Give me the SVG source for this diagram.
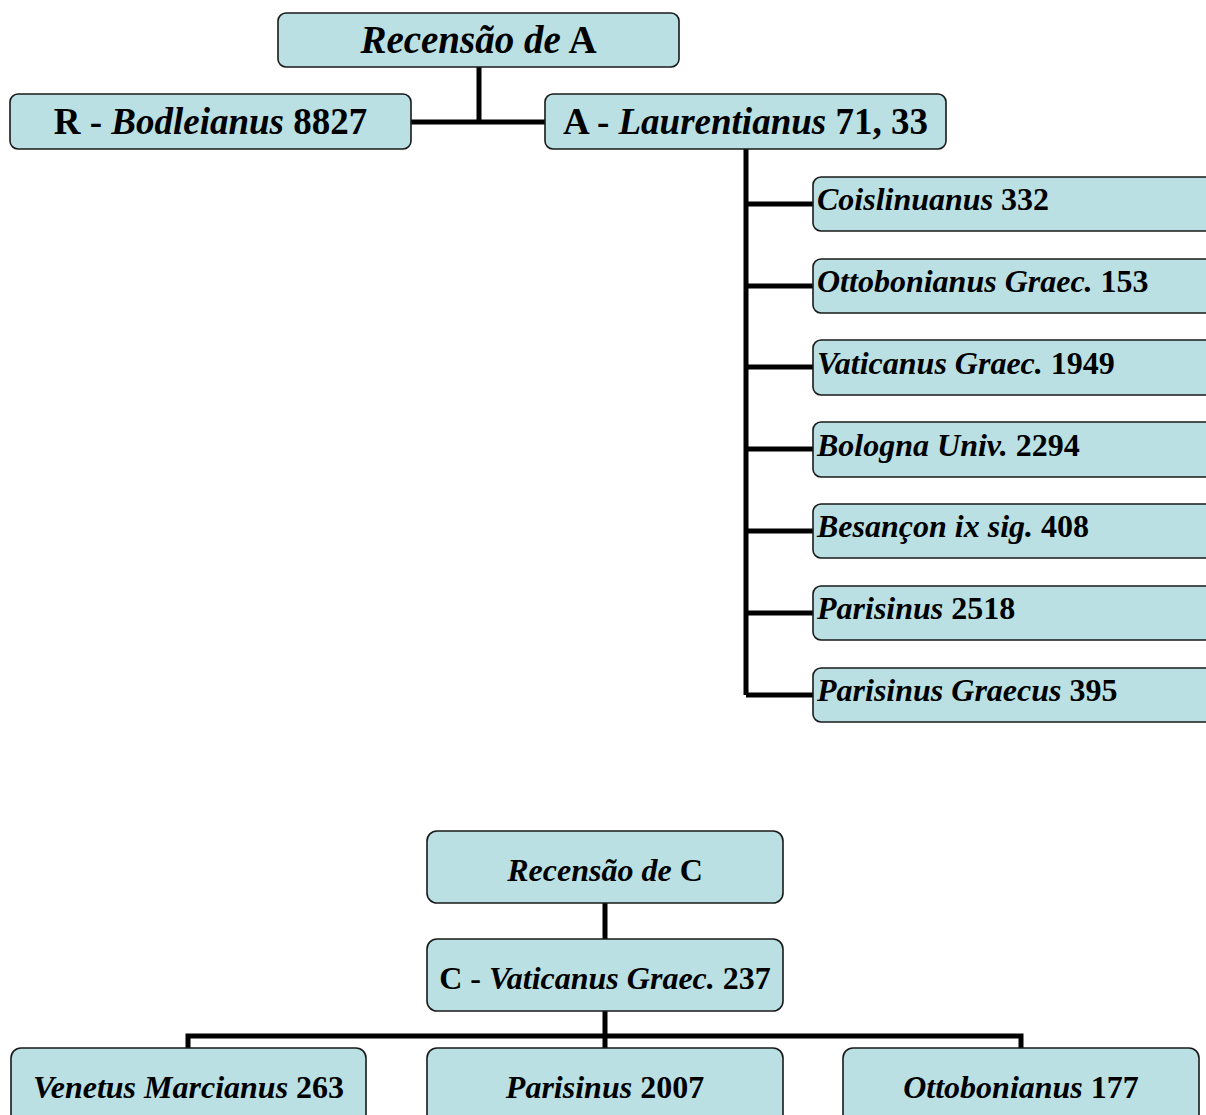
<svg xmlns="http://www.w3.org/2000/svg" width="1206" height="1115" viewBox="0 0 1206 1115">
<style>
.box{fill:#bae0e3;stroke:#1a1a1a;stroke-width:1.6}
.t{font-family:"Liberation Serif","Times New Roman",serif;font-weight:bold;fill:#000}
.i{font-style:italic}
.s{font-size:32px}
.c{stroke:#000;stroke-width:5;fill:none}
</style>
<rect width="1206" height="1115" fill="#fff"/>
<g id="connectors">
<path class="c" d="M479,67 V122 M411,122 H545"/>
<path class="c" d="M746,149 V695 M746,204 H813 M746,286 H813 M746,367 H813 M746,449 H813 M746,531 H813 M746,613 H813 M746,695 H813"/>
<path class="c" d="M605,903 V939 M605,1011 V1048 M188,1048 V1036 H1021 V1048"/>
</g>
<g id="recensao-a"><rect class="box" x="278" y="13" width="401" height="54" rx="8"/><text class="t" x="478.5" y="53" font-size="39" text-anchor="middle"><tspan class="i">Recensão de</tspan> A</text></g>
<g id="r-bodleianus"><rect class="box" x="10" y="94" width="401" height="55" rx="8"/><text class="t" x="210.5" y="134" font-size="37" text-anchor="middle">R - <tspan class="i">Bodleianus</tspan> 8827</text></g>
<g id="a-laurentianus"><rect class="box" x="545" y="94" width="401" height="55" rx="8"/><text class="t" x="745.5" y="134" font-size="37" text-anchor="middle">A - <tspan class="i">Laurentianus</tspan> 71, 33</text></g>
<g id="coislinuanus"><rect class="box" x="813" y="177" width="410" height="54" rx="8"/><text class="t s" x="817" y="210"><tspan class="i">Coislinuanus</tspan> 332</text></g>
<g id="ottobonianus-graec"><rect class="box" x="813" y="259" width="410" height="54" rx="8"/><text class="t s" x="817" y="292"><tspan class="i">Ottobonianus Graec.</tspan> 153</text></g>
<g id="vaticanus-graec-1949"><rect class="box" x="813" y="340" width="410" height="55" rx="8"/><text class="t s" x="817" y="374"><tspan class="i">Vaticanus Graec.</tspan> 1949</text></g>
<g id="bologna"><rect class="box" x="813" y="422" width="410" height="55" rx="8"/><text class="t s" x="817" y="456"><tspan class="i">Bologna Univ.</tspan> 2294</text></g>
<g id="besancon"><rect class="box" x="813" y="504" width="410" height="54" rx="8"/><text class="t s" x="817" y="537"><tspan class="i">Besançon ix sig.</tspan> 408</text></g>
<g id="parisinus-2518"><rect class="box" x="813" y="586" width="410" height="54" rx="8"/><text class="t s" x="817" y="619"><tspan class="i">Parisinus</tspan> 2518</text></g>
<g id="parisinus-graecus"><rect class="box" x="813" y="668" width="410" height="54" rx="8"/><text class="t s" x="817" y="701"><tspan class="i">Parisinus Graecus</tspan> 395</text></g>
<g id="recensao-c"><rect class="box" x="427" y="831" width="356" height="72" rx="10"/><text class="t s" x="605" y="881" text-anchor="middle"><tspan class="i">Recensão de</tspan> C</text></g>
<g id="c-vaticanus"><rect class="box" x="427" y="939" width="356" height="72" rx="10"/><text class="t s" x="605" y="989" text-anchor="middle">C - <tspan class="i">Vaticanus Graec.</tspan> 237</text></g>
<g id="venetus"><rect class="box" x="11" y="1048" width="355" height="80" rx="10"/><text class="t s" x="188.5" y="1098" text-anchor="middle"><tspan class="i">Venetus Marcianus</tspan> 263</text></g>
<g id="parisinus-2007"><rect class="box" x="427" y="1048" width="356" height="80" rx="10"/><text class="t s" x="605" y="1098" text-anchor="middle"><tspan class="i">Parisinus</tspan> 2007</text></g>
<g id="ottobonianus-177"><rect class="box" x="843" y="1048" width="356" height="80" rx="10"/><text class="t s" x="1021" y="1098" text-anchor="middle"><tspan class="i">Ottobonianus</tspan> 177</text></g>
</svg>
